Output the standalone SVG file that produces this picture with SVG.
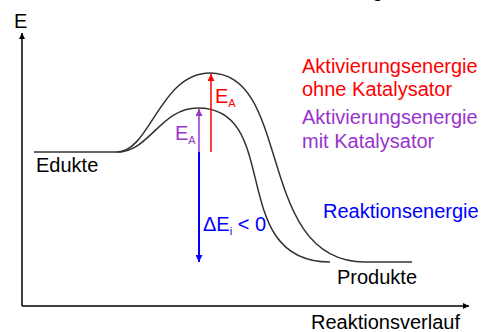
<svg xmlns="http://www.w3.org/2000/svg" width="492" height="332" viewBox="0 0 492 332">
<style>
text{font-family:"Liberation Sans",Arial,sans-serif;font-size:20px}
.crv{fill:none;stroke:#333;stroke-width:1.5}
.ax{stroke:#000;stroke-width:1.5;fill:none}
.red{fill:#ff0000}.pur{fill:#9933cc}.blu{fill:#0000ff}
</style>
<defs>
<marker id="ak" viewBox="0 0 10 10" refX="10" refY="5" markerWidth="6" markerHeight="6" orient="auto" markerUnits="userSpaceOnUse"><path d="M0,0L10,5L0,10z" fill="#000"/></marker>
<marker id="ar" viewBox="0 0 10 10" refX="10" refY="5" markerWidth="7" markerHeight="7" orient="auto" markerUnits="userSpaceOnUse"><path d="M0,0L10,5L0,10z" fill="#ff0000"/></marker>
<marker id="ap" viewBox="0 0 10 10" refX="10" refY="5" markerWidth="7" markerHeight="7" orient="auto" markerUnits="userSpaceOnUse"><path d="M0,0L10,5L0,10z" fill="#9933cc"/></marker>
<marker id="ab" viewBox="0 0 10 10" refX="10" refY="5" markerWidth="7" markerHeight="7" orient="auto" markerUnits="userSpaceOnUse"><path d="M0,0L10,5L0,10z" fill="#0000ff"/></marker>
</defs>
<g id="axes">
<path class="ax" d="M22,306V33" marker-end="url(#ak)"/>
<path class="ax" d="M22,306H469" marker-end="url(#ak)"/>
<text x="14" y="28">E</text>
<text x="311" y="329">Reaktionsverlauf</text>
<text x="372" y="-3">g</text>
</g>
<g id="curves">
<path class="crv" d="M34,152H117C150,152 160,73 210,73C293,73 255,262 365,262H412"/>
<path class="crv" d="M117,152C150,152 160,108 198,108C283,108 226,262 330,262"/>
</g>
<g id="edukte"><text x="36" y="172">Edukte</text></g>
<g id="produkte"><text x="337" y="284">Produkte</text></g>
<g id="connectors">
<path d="M211,152V74" stroke="#ff0000" stroke-width="1.5" marker-end="url(#ar)"/>
<path d="M199,152V109" stroke="#9933cc" stroke-width="1.5" marker-end="url(#ap)"/>
<path d="M199,152V262" stroke="#0000ff" stroke-width="2" marker-end="url(#ab)"/>
</g>
<g id="ea-ohne"><text class="red" x="215" y="103">E<tspan font-size="11" dy="4">A</tspan></text></g>
<g id="ea-mit"><text class="pur" x="175" y="140">E<tspan font-size="11" dy="4">A</tspan></text></g>
<g id="delta-e"><text class="blu" x="203" y="231">ΔE<tspan font-size="11" dy="4">i</tspan><tspan dy="-4"> &lt; 0</tspan></text></g>
<g id="legend">
<text class="red" x="302" y="73">Aktivierungsenergie</text>
<text class="red" x="302" y="96">ohne Katalysator</text>
<text class="pur" x="302" y="124">Aktivierungsenergie</text>
<text class="pur" x="302" y="148">mit Katalysator</text>
<text class="blu" x="323" y="218">Reaktionsenergie</text>
</g>
</svg>
